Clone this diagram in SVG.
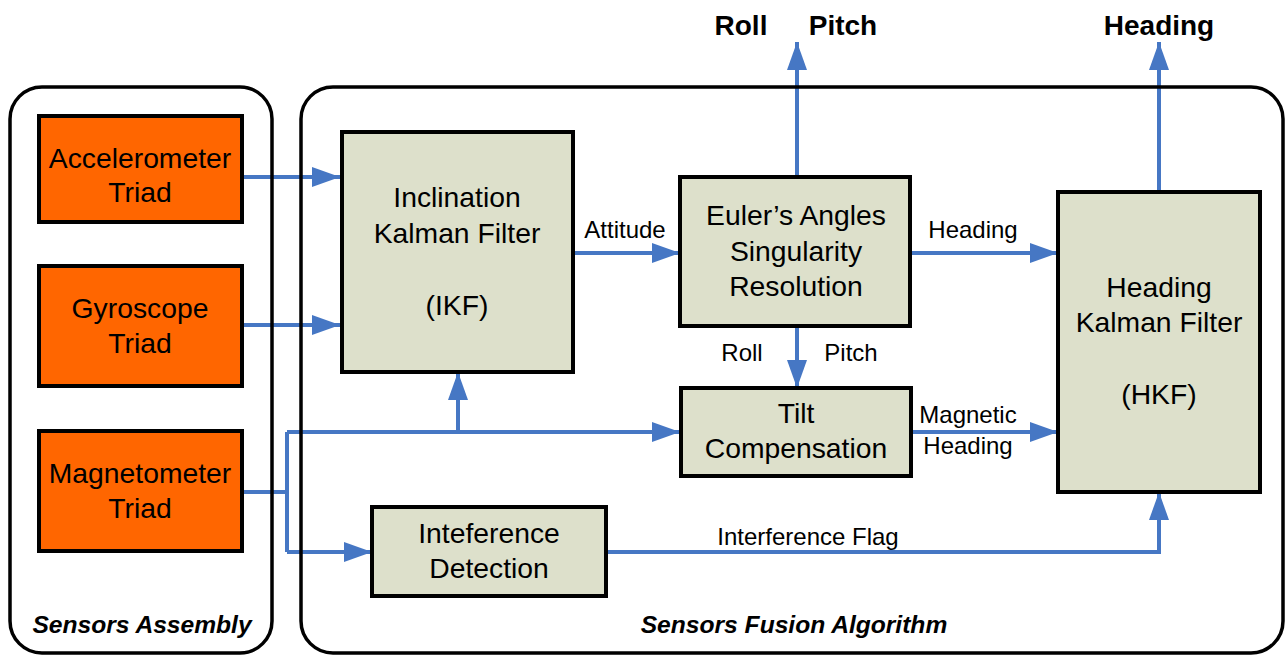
<svg xmlns="http://www.w3.org/2000/svg" width="1286" height="655" viewBox="0 0 1286 655">
<style>
.bg{fill:#ffffff}
.cont{fill:none;stroke:#000;stroke-width:3.5}
.sensor{fill:#ff6600;stroke:#000;stroke-width:4}
.proc{fill:#dde0cb;stroke:#000;stroke-width:4}
.t{font-family:"Liberation Sans",Arial,sans-serif;font-size:28.3px;fill:#000;text-anchor:middle}
.l{font-family:"Liberation Sans",Arial,sans-serif;font-size:24px;fill:#000;text-anchor:middle}
.b{font-family:"Liberation Sans",Arial,sans-serif;font-size:28px;font-weight:bold;fill:#000;text-anchor:middle}
.ti{font-family:"Liberation Sans",Arial,sans-serif;font-size:24.6px;font-weight:bold;font-style:italic;fill:#000;text-anchor:middle}
.c{fill:none;stroke:#4677c4;stroke-width:4}
</style>
<defs>
<marker id="ah" markerUnits="userSpaceOnUse" markerWidth="28" markerHeight="20" refX="28" refY="10" orient="auto" viewBox="0 0 28 20">
<path d="M0,0 L28,10 L0,20 z" fill="#4677c4"/>
</marker>
</defs>
<rect class="bg" x="0" y="0" width="1286" height="655"/>
<g id="connectors">
<path class="c" d="M242,177 H340" marker-end="url(#ah)"/>
<path class="c" d="M242,325 H340" marker-end="url(#ah)"/>
<path class="c" d="M242,492 H287"/>
<path class="c" d="M287,432 V552"/>
<path class="c" d="M287,432 H680" marker-end="url(#ah)"/>
<path class="c" d="M458,432 V372" marker-end="url(#ah)"/>
<path class="c" d="M287,552 H372" marker-end="url(#ah)"/>
<path class="c" d="M573,253 H680" marker-end="url(#ah)"/>
<path class="c" d="M797,177 V42" marker-end="url(#ah)"/>
<path class="c" d="M797,326 V388" marker-end="url(#ah)"/>
<path class="c" d="M910,253 H1058" marker-end="url(#ah)"/>
<path class="c" d="M912,432 H1058" marker-end="url(#ah)"/>
<path class="c" d="M1159,192 V42" marker-end="url(#ah)"/>
<path class="c" d="M606,552 H1159 V492" marker-end="url(#ah)"/>
<text class="l" x="625" y="238">Attitude</text>
<text class="l" x="973" y="238">Heading</text>
<text class="l" x="742" y="361">Roll</text>
<text class="l" x="851" y="361">Pitch</text>
<text class="l" x="968" y="423">Magnetic</text>
<text class="l" x="968" y="454">Heading</text>
<text class="l" x="808" y="545">Interference Flag</text>
<text class="b" x="741" y="35">Roll</text>
<text class="b" x="843" y="35">Pitch</text>
<text class="b" x="1159" y="35">Heading</text>
</g>
<g id="sensors-assembly">
<rect class="cont" x="10" y="87" width="262" height="566" rx="32" ry="32"/>
<text class="ti" x="142" y="633">Sensors Assembly</text>
</g>
<g id="sensors-fusion">
<rect class="cont" x="301" y="87" width="982" height="566" rx="32" ry="32"/>
<text class="ti" x="794" y="633">Sensors Fusion Algorithm</text>
</g>
<g id="accelerometer">
<rect class="sensor" x="39" y="116" width="203" height="106"/>
<text class="t" x="140" y="168">Accelerometer</text>
<text class="t" x="140" y="202">Triad</text>
</g>
<g id="gyroscope">
<rect class="sensor" x="39" y="266" width="203" height="120"/>
<text class="t" x="140" y="318">Gyroscope</text>
<text class="t" x="140" y="353">Triad</text>
</g>
<g id="magnetometer">
<rect class="sensor" x="39" y="431" width="203" height="120"/>
<text class="t" x="140" y="483">Magnetometer</text>
<text class="t" x="140" y="518">Triad</text>
</g>
<g id="ikf">
<rect class="proc" x="342" y="132" width="231" height="240"/>
<text class="t" x="457" y="207">Inclination</text>
<text class="t" x="457" y="243">Kalman Filter</text>
<text class="t" x="457" y="315">(IKF)</text>
</g>
<g id="euler">
<rect class="proc" x="680" y="177" width="230" height="149"/>
<text class="t" x="796" y="225">Euler’s Angles</text>
<text class="t" x="796" y="261">Singularity</text>
<text class="t" x="796" y="296">Resolution</text>
</g>
<g id="tilt">
<rect class="proc" x="681" y="388" width="230" height="88"/>
<text class="t" x="796" y="423">Tilt</text>
<text class="t" x="796" y="458">Compensation</text>
</g>
<g id="interference">
<rect class="proc" x="372" y="507" width="234" height="89"/>
<text class="t" x="489" y="543">Inteference</text>
<text class="t" x="489" y="578">Detection</text>
</g>
<g id="hkf">
<rect class="proc" x="1058" y="192" width="202" height="300"/>
<text class="t" x="1159" y="297">Heading</text>
<text class="t" x="1159" y="332">Kalman Filter</text>
<text class="t" x="1159" y="404">(HKF)</text>
</g>
</svg>
